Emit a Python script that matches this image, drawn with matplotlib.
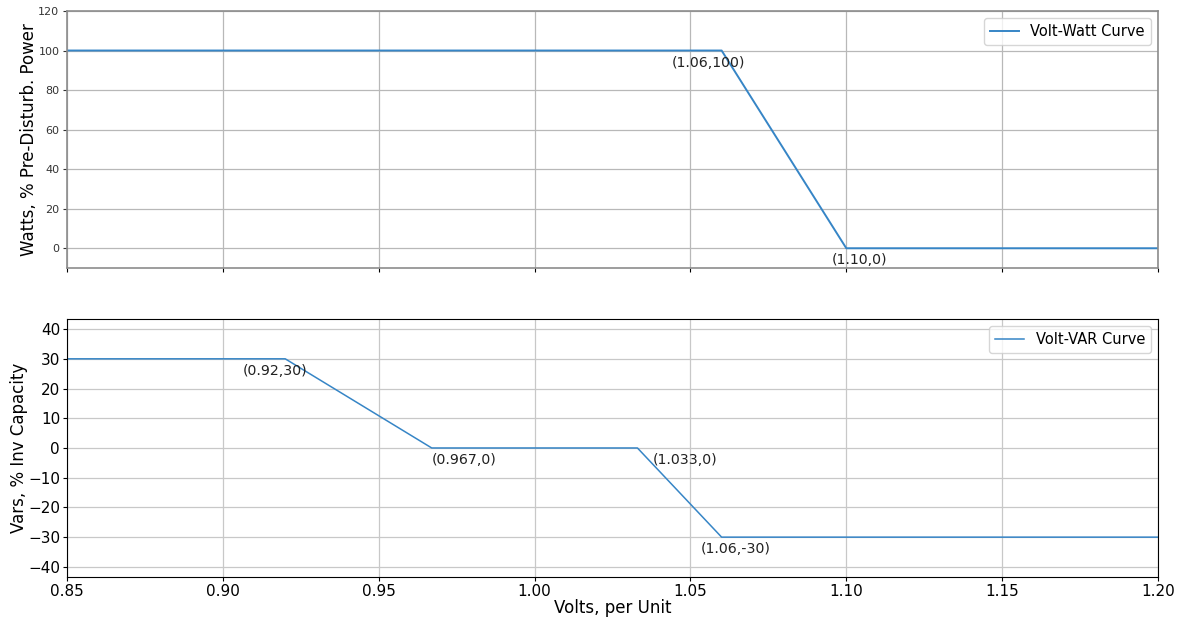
"""
Volt-Watt and Volt-VAR inverter curves.
"""

import matplotlib
matplotlib.use("Agg")
import matplotlib.pyplot as plt

# volt-watt curve points
vw_volts = [0.85, 1.06, 1.10, 1.20]
vw_watts = [100, 100, 0, 0]
vw_labels = ["(1.06,100)", "(1.10,0)"]
vw_label_idx = [1, 2]

# volt-var curve points
vv_volts = [0.85, 0.92, 0.967, 1.033, 1.06, 1.20]
vv_vars = [30, 30, 0, 0, -30, -30]
vv_labels = ["(0.92,30)", "(0.967,0)", "(1.033,0)", "(1.06,-30)"]
vv_label_idx = [1, 2, 3, 4]

# label offsets (pixels, left edge / top edge relative to the point)
vw_offsets = [(-50, -5), (-15, -5)]
vv_offsets = [(-42, -5), (0, -5), (15, -5), (-21, -5)]

line_color = '#3685c6'


def add_labels(ax, xs, ys, idx, labels, offsets):
    for i, lbl, off in zip(idx, labels, offsets):
        ax.annotate(lbl, xy=(xs[i], ys[i]),
                    xytext=(off[0] * 0.72, off[1] * 0.72),
                    textcoords='offset points',
                    ha='left', va='top', fontsize=10.2, color='#222222')


fig = plt.figure(figsize=(11.82, 6.2), dpi=100)
ax1 = fig.add_axes([0.0567, 0.5677, 0.9230, 0.4146])
ax2 = fig.add_axes([0.0567, 0.0694, 0.9230, 0.4161], sharex=ax1)

# top plot
ax1.plot(vw_volts, vw_watts, color=line_color, lw=1.4, label="Volt-Watt Curve")
add_labels(ax1, vw_volts, vw_watts, vw_label_idx, vw_labels, vw_offsets)
ax1.set_ylim(-10, 120)
ax1.set_yticks([0, 20, 40, 60, 80, 100, 120])
ax1.tick_params(axis='y', labelsize=8, colors='#333333', length=3, pad=2.5)
ax1.tick_params(axis='x', labelbottom=False, length=3)
ax1.set_ylabel("Watts, % Pre-Disturb. Power", fontsize=12, labelpad=0)
ax1.grid(True, color='#b8b8b8', lw=0.9)
for sp in ax1.spines.values():
    sp.set_color('#8c8c8c')
    sp.set_linewidth(1.2)
ax1.legend(loc='upper right', fontsize=10.5)

# bottom plot
ax2.plot(vv_volts, vv_vars, color=line_color, lw=1.1, label="Volt-VAR Curve")
add_labels(ax2, vv_volts, vv_vars, vv_label_idx, vv_labels, vv_offsets)
ax2.set_xlim(0.85, 1.20)
ax2.set_ylim(-43.4, 43.4)
ax2.set_yticks([-40, -30, -20, -10, 0, 10, 20, 30, 40])
ax2.set_xticks([0.85, 0.90, 0.95, 1.00, 1.05, 1.10, 1.15, 1.20])
ax2.set_xticklabels(["0.85", "0.90", "0.95", "1.00", "1.05", "1.10", "1.15", "1.20"])
ax2.tick_params(labelsize=11, length=3, pad=2)
ax2.set_ylabel("Vars, % Inv Capacity", fontsize=12, labelpad=0)
ax2.set_xlabel("Volts, per Unit", fontsize=12, labelpad=0)
ax2.grid(True, color='#c8c8c8', lw=0.9)
ax2.legend(loc='upper right', fontsize=10.5)

fig.savefig("out.png", dpi=100)
